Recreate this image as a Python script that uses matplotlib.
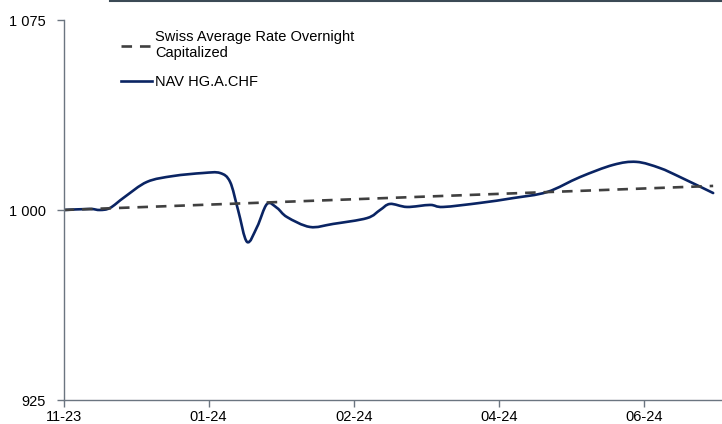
import numpy as np
import matplotlib
matplotlib.use("Agg")
import matplotlib.pyplot as plt
from matplotlib.lines import Line2D
from matplotlib.path import Path
from matplotlib.patches import PathPatch

plt.rcParams['font.family'] = ['Liberation Sans', 'DejaVu Sans']

# x positions in tick units (0 = 11-23, 1 = 01-24, ...)
tick_labels = ["11-23", "01-24", "02-24", "04-24", "06-24"]

nav_x = [0.0, 0.18, 0.25, 0.32, 0.42, 0.575, 0.754, 0.961, 1.079, 1.148, 1.203,
         1.265, 1.334, 1.403, 1.472, 1.541, 1.699,
         1.858, 2.092, 2.182, 2.251, 2.368, 2.527, 2.617, 2.872, 3.099, 3.334,
         3.561, 3.789, 3.95, 4.11, 4.251, 4.479]
nav_y = [1000.0, 1000.4, 1000.0, 1000.8, 1005.1, 1011.1, 1013.4, 1014.6, 1014.6,
         1011.1, 1000.0, 987.4, 993.3, 1002.4, 1000.8,
         997.2, 993.3, 994.5, 996.8, 1000.0, 1002.4, 1001.2, 1002.0, 1001.2,
         1002.8, 1004.7, 1007.1, 1013.0, 1017.8, 1019.0, 1016.6, 1013.0, 1006.7]

saron_x = [0.0, 4.479]
saron_y = [1000.0, 1009.5]

NAVY = "#0a2463"
GREY = "#404040"


def smooth_path(xs, ys, ax):
    # Excel-like smoothed line: Catmull-Rom drawn as cubic Bezier in pixel space
    pts = ax.transData.transform(np.column_stack([xs, ys]))
    verts = [pts[0]]
    codes = [Path.MOVETO]
    n = len(pts)
    for i in range(n - 1):
        p0 = pts[max(i - 1, 0)]
        p1 = pts[i]
        p2 = pts[i + 1]
        p3 = pts[min(i + 2, n - 1)]
        c1 = p1 + (p2 - p0) / 6.0
        c2 = p2 - (p3 - p1) / 6.0
        verts += [c1, c2, p2]
        codes += [Path.CURVE4] * 3
    return Path(verts, codes)


fig = plt.figure(figsize=(7.22, 4.24), dpi=100)
ax = fig.add_axes([63.6 / 722, 1 - 400 / 424, 1 - 63.6 / 722, 380 / 424])

ax.set_xlim(0, 4.54)
ax.set_ylim(925, 1075)

ax.plot(saron_x, saron_y, color=GREY, lw=1.9, dashes=(4, 3))
path = smooth_path(nav_x, nav_y, ax)
ax.add_patch(PathPatch(path, transform=None, fill=False, edgecolor=NAVY,
                       lw=1.9, capstyle="round", joinstyle="round"))

ax.set_yticks([925, 1000, 1075])
ax.set_yticklabels(["925", "1 000", "1 075"])
ax.set_xticks(range(len(tick_labels)))
ax.set_xticklabels(tick_labels)

for s in ["top", "right"]:
    ax.spines[s].set_visible(False)
for s in ["left", "bottom"]:
    ax.spines[s].set_color("#6b7580")
    ax.spines[s].set_linewidth(1.0)
ax.tick_params(axis="both", colors="#6b7580", labelcolor="black",
               labelsize=10.5, length=5, width=1.0)
ax.tick_params(axis="y", pad=8)
ax.tick_params(axis="x", pad=2)

handles = [Line2D([], [], color=GREY, lw=1.9, dashes=(4, 3)),
           Line2D([], [], color=NAVY, lw=1.9)]
labels = ["Swiss Average Rate Overnight\nCapitalized", "NAV HG.A.CHF"]
ax.legend(handles, labels, loc="upper left",
          bbox_to_anchor=(108 / 722, 1 - 17 / 424),
          bbox_transform=fig.transFigure, frameon=False, fontsize=10.5,
          handlelength=2.1, handletextpad=0.25, labelspacing=1.0)

fig.add_artist(Line2D([110 / 722, 1], [1 - 1 / 424, 1 - 1 / 424],
                      color="#3b4a55", lw=1.5, transform=fig.transFigure))

fig.savefig("out.png", dpi=100)
